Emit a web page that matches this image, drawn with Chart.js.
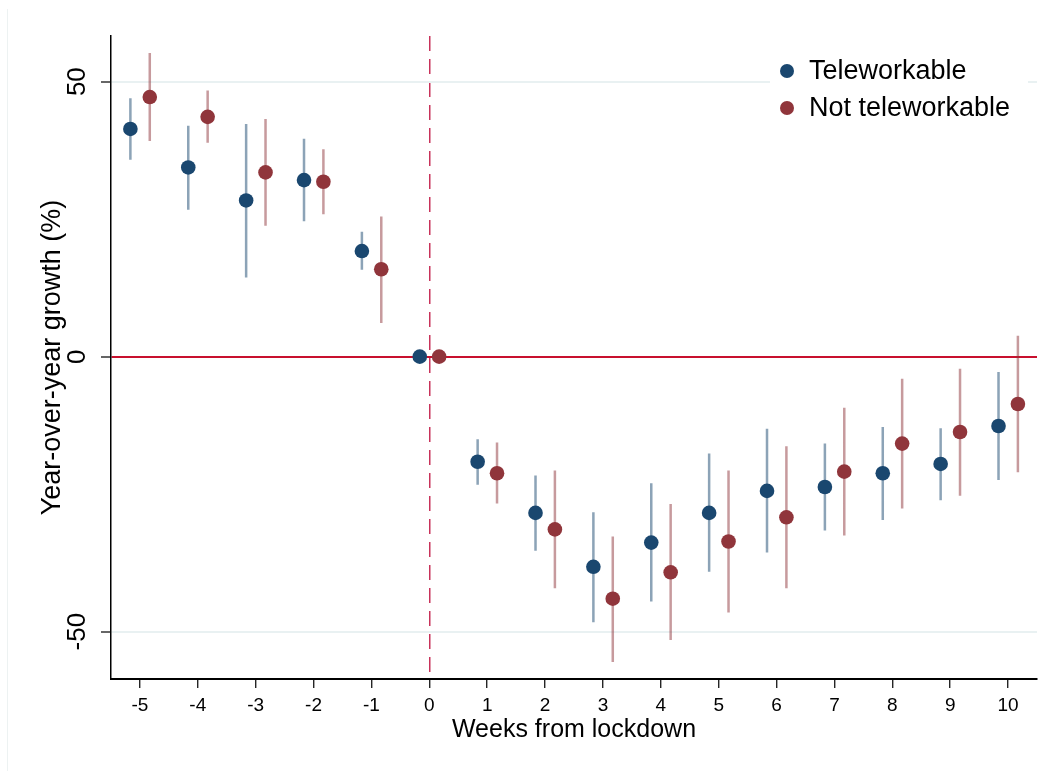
<!DOCTYPE html>
<html>
<head>
<meta charset="utf-8">
<script src="https://cdn.jsdelivr.net/npm/chart.js@4.4.1/dist/chart.umd.min.js"></script>
<style>
    body { margin: 0; background: #fff; }
    #wrap { width: 1056px; height: 771px; }
</style>
</head>
<body>
<div id="wrap"><canvas id="event-study" width="1056" height="771"></canvas></div>
<script>
// weeks relative to the lockdown week
const weeks = [-5, -4, -3, -2, -1, 0, 1, 2, 3, 4, 5, 6, 7, 8, 9, 10]

// teleworkable occupations: estimate and 95% interval
const teleEst = [41.4, 34.4, 28.4, 32.1, 19.2, 0, -19.1, -28.4, -38.2, -33.8, -28.4, -24.4, -23.7, -21.2, -19.5, -12.6]
const teleLo = [35.8, 26.7, 14.4, 24.6, 15.8, null, -23.3, -35.3, -48.3, -44.5, -39.1, -35.6, -31.6, -29.7, -26.1, -22.4]
const teleHi = [47.0, 42.0, 42.3, 39.6, 22.7, null, -15.0, -21.6, -28.3, -23.0, -17.6, -13.1, -15.8, -12.8, -13.0, -2.8]

// not teleworkable occupations
const notEst = [47.2, 43.6, 33.5, 31.8, 15.9, 0, -21.2, -31.4, -44.0, -39.2, -33.6, -29.2, -20.9, -15.8, -13.7, -8.6]
const notLo = [39.2, 38.9, 23.8, 25.9, 6.1, null, -26.7, -42.1, -55.5, -51.5, -46.5, -42.1, -32.5, -27.6, -25.3, -21.0]
const notHi = [55.2, 48.4, 43.2, 37.7, 25.5, null, -15.6, -20.7, -32.7, -26.8, -20.7, -16.3, -9.3, -4.0, -2.2, 3.8]

const xTicks = weeks
const yTicks = [-50, 0, 50]

const seriesLabels = ['Teleworkable', 'Not teleworkable']
const teleColor = '#1a476f'
const notColor = '#90353b'
const teleCiColor = 'rgba(26, 71, 111, 0.5)'
const notCiColor = 'rgba(144, 53, 59, 0.5)'
const lineRed = '#c8102e'

// small horizontal shift so the two groups sit side by side
const teleShift = -0.165
const notShift = 0.17

function points(est, shift) {
    return weeks.map((w, i) => ({ x: w + shift, y: est[i] }))
}

// vertical interval segments, separated by null gaps
function intervals(lo, hi, shift) {
    let out = []
    weeks.forEach((w, i) => {
        if(lo[i] === null) return
        out.push({ x: w + shift, y: lo[i] })
        out.push({ x: w + shift, y: hi[i] })
        out.push({ x: w + shift, y: null })
    })
    return out
}

const fontFamily = '"Liberation Sans", Arial, sans-serif'

const frameAndLegend = {
    id: 'frameAndLegend',
    beforeDraw(chart) {
        let ctx = chart.ctx
        ctx.save()
        ctx.strokeStyle = '#edf2f2'
        ctx.lineWidth = 1
        ctx.beginPath()
        ctx.moveTo(7.5, 9)
        ctx.lineTo(7.5, 771)
        ctx.stroke()
        ctx.restore()
    },
    afterDraw(chart) {
        let ctx = chart.ctx
        ctx.save()
        ctx.fillStyle = '#fff'
        ctx.fillRect(770, 50, 258, 76)
        let colors = [teleColor, notColor]
        seriesLabels.forEach((label, i) => {
            let y = 71 + i * 37
            ctx.fillStyle = colors[i]
            ctx.beginPath()
            ctx.arc(787, y, 7, 0, Math.PI * 2)
            ctx.fill()
            ctx.fillStyle = '#000'
            ctx.font = '27px ' + fontFamily
            ctx.textBaseline = 'middle'
            ctx.textAlign = 'left'
            ctx.fillText(label, 809, y + 1)
        })
        ctx.restore()
    }
}

new Chart(document.getElementById('event-study'), {
    type: 'scatter',
    data: {
        datasets: [
            {
                type: 'line',
                label: 'tele-ci',
                data: intervals(teleLo, teleHi, teleShift),
                borderColor: teleCiColor,
                borderWidth: 2.5,
                pointRadius: 0,
                spanGaps: false,
                order: 2
            },
            {
                type: 'line',
                label: 'not-ci',
                data: intervals(notLo, notHi, notShift),
                borderColor: notCiColor,
                borderWidth: 2.5,
                pointRadius: 0,
                spanGaps: false,
                order: 2
            },
            {
                label: seriesLabels[0],
                data: points(teleEst, teleShift),
                backgroundColor: teleColor,
                borderWidth: 0,
                pointRadius: 7.3,
                order: 1
            },
            {
                label: seriesLabels[1],
                data: points(notEst, notShift),
                backgroundColor: notColor,
                borderWidth: 0,
                pointRadius: 7.3,
                order: 1
            }
        ]
    },
    options: {
        responsive: false,
        animation: false,
        layout: { padding: { left: 0, right: 19, top: 36, bottom: 0 } },
        plugins: {
            legend: { display: false },
            tooltip: { enabled: false }
        },
        scales: {
            x: {
                type: 'linear',
                min: -5.5,
                max: 10.5,
                afterBuildTicks: (scale) => { scale.ticks = xTicks.map(v => ({ value: v })) },
                afterFit: (scale) => { scale.height = 92 },
                grid: {
                    color: (context) => context.tick && context.tick.value === 0 ? '#c8325a' : 'rgba(0,0,0,0)',
                    lineWidth: 1.5,
                    tickColor: '#000',
                    tickLength: 9,
                    tickWidth: 1.2
                },
                border: {
                    color: '#000',
                    width: 2,
                    dash: (context) => context.tick && context.tick.value === 0 ? [15, 8] : []
                },
                ticks: {
                    color: '#000',
                    font: { family: fontFamily, size: 19 },
                    padding: 6,
                    maxRotation: 0,
                    autoSkip: false
                },
                title: {
                    display: true,
                    text: 'Weeks from lockdown',
                    color: '#000',
                    font: { family: fontFamily, size: 25 },
                    padding: { top: 0, bottom: 26 }
                }
            },
            y: {
                min: -58.6,
                max: 58.3,
                afterBuildTicks: (scale) => { scale.ticks = yTicks.map(v => ({ value: v })) },
                afterFit: (scale) => { scale.width = 111 },
                grid: {
                    color: (context) => {
                        if(!context.tick) return 'rgba(0,0,0,0)'
                        if(context.tick.value === 0) return lineRed
                        return '#e9f1f2'
                    },
                    lineWidth: 2,
                    tickColor: '#000',
                    tickLength: 10,
                    tickWidth: 1.2
                },
                border: { color: '#000', width: 1.5 },
                ticks: {
                    color: '#000',
                    font: { family: fontFamily, size: 26 },
                    minRotation: 90,
                    maxRotation: 90,
                    crossAlign: 'center',
                    padding: 4
                },
                title: {
                    display: true,
                    text: 'Year-over-year growth (%)',
                    color: '#000',
                    font: { family: fontFamily, size: 27 },
                    padding: { top: 36, bottom: 0 }
                }
            }
        }
    },
    plugins: [frameAndLegend]
})
</script>
</body>
</html>
